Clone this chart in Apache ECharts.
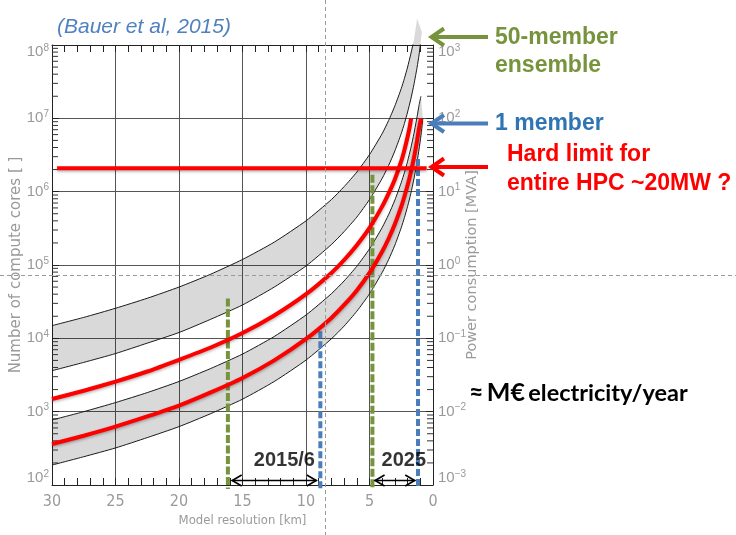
<!DOCTYPE html>
<html>
<head>
<meta charset="utf-8">
<title>Compute cores vs model resolution</title>
<script src="https://cdn.jsdelivr.net/npm/echarts@6.0.0/dist/echarts.min.js"></script>
<style>
html,body{margin:0;padding:0;background:#ffffff;}
#chart{width:736px;height:535px;}
</style>
</head>
<body>
<div id="chart"></div>
<script>
// ---------- values ----------
// each point: [model resolution in km, number of compute cores]
const ensembleUpper = [[30,14900],[27.5,19300],[25,25700],[22.5,35200],[20,50000],[17.5,75000],[15,119000],[12.5,205000],[10,400000],[8,780000],[7,1170000],[6,1850000],[5,3200000],[4,6200000],[3.5,9300000],[3,14800000],[2.5,25500000],[2.25,35000000],[2,50000000],[1.75,75000000],[1.5,118000000],[1.25,230000000]];
const ensembleLower = [[30,3620],[27.5,4700],[25,6200],[22.5,8600],[20,12000],[17.5,18200],[15,28500],[12.5,50000],[10,97000],[8,190000],[7,285000],[6,450000],[5,780000],[4,1520000],[3.5,2270000],[3,3600000],[2.5,6200000],[2.25,8500000],[2,12200000],[1.75,18200000],[1.5,29000000],[1.25,50000000],[1.1,73000000],[1,100000000],[0.88,150000000]];
const upperRed = [[30,1490],[27.5,1930],[25,2570],[22.5,3530],[20,5100],[17.5,7500],[15,11800],[12.5,20500],[10,40000],[8,78000],[7,117000],[6,186000],[5,320000],[4,630000],[3.5,940000],[3,1480000],[2.5,2600000],[2.25,3700000],[2,5600000],[1.85,7400000],[1.72,10000000]];
const memberUpper = [[30,770],[27.5,1000],[25,1330],[22.5,1820],[20,2580],[17.5,3880],[15,6100],[12.5,10600],[10,20800],[8,40600],[7,60600],[6,96000],[5,166000],[4,325000],[3.5,485000],[3,770000],[2.5,1330000],[2.25,1820000],[2,2600000],[1.75,3900000],[1.5,6200000],[1.25,10600000],[1.1,15000000],[0.95,20000000]];
const lowerRed = [[30,362],[27.5,470],[25,625],[22.5,860],[20,1210],[17.5,1830],[15,2880],[12.5,5000],[10,9800],[8,19000],[7,28500],[6,45000],[5,78000],[4,153000],[3.5,228000],[3,362000],[2.5,625000],[2.25,860000],[2,1220000],[1.75,1820000],[1.5,2900000],[1.25,5000000],[1.1,7300000],[0.95,10000000]];
const memberLower = [[30,187],[27.5,243],[25,320],[22.5,443],[20,625],[17.5,940],[15,1480],[12.5,2580],[10,5050],[8,9850],[7,14700],[6,23400],[5,40400],[4,79000],[3.5,118000],[3,187000],[2.5,323000],[2.25,443000],[2,630000],[1.75,940000],[1.5,1500000],[1.25,2580000],[1.1,3800000],[0.95,5800000],[0.8,10000000]];

const hardLimitCores = 2080000;
const hardLimitKm = [29.6, 0.5];

// vertical dashed markers (2015/6 and 2025)
const markerKm   = [16.15, 8.87, 4.77, 1.18];
const markerTop  = [35000, 12500, 1700000, 2800000];
const markerBottom = 88;

// period arrows and labels
const periodFromKm = [15.85, 4.6];
const periodToKm   = [9.15, 1.4];
const periodArrowCores = 117;
const periodLabels = ['2015/6', '2025'];
const periodLabelKm = [11.7, 2.3];
const periodLabelCores = 215;

// grey guide cross-hair of the slide
const guideKm = 8.5;
const guideCores = 73000;

// axes
const xTicks = [30, 25, 20, 15, 10, 5, 0];
const coreTickExp = [2, 3, 4, 5, 6, 7, 8];
const powerTickExp = [-3, -2, -1, 0, 1, 2, 3];

// ---------- chart ----------
const FONT = "'Liberation Sans', Arial, sans-serif";
const NARROW = "'Liberation Sans Narrow', 'DejaVu Sans Condensed', 'Liberation Sans', sans-serif";
const WIDE = "'DejaVu Sans', 'Liberation Sans', sans-serif";
const GREEN = '#77933c', BLUE = '#4a7ebb', RED = '#ff0000';
const markerColor = [GREEN, BLUE, GREEN, BLUE];
const markerDash = [[8, 2.5], [7, 3], [8, 2.5], [7, 3]];

function supLabel(v, exps) {
  const e = Math.round(Math.log10(v));
  const s = e < 0 ? '\u2212' + (-e) : String(e);
  const core = '{b|10}{s|' + s + '}';
  if (e === exps[exps.length - 1]) return '{g| }\n' + core;
  if (e === exps[0]) return core + '\n{g| }';
  return core;
}
const richLab = {
  b: {fontSize: 15, lineHeight: 18, color: '#9a9a9a', fontFamily: FONT},
  s: {fontSize: 10, lineHeight: 10, verticalAlign: 'top', color: '#9a9a9a', fontFamily: FONT},
  g: {fontSize: 8, lineHeight: 14}
};

const minorVals = [];
for (let i = 0; i < coreTickExp.length - 1; i++) {
  for (let m = 2; m <= 9; m++) minorVals.push([15, m * Math.pow(10, coreTickExp[i])]);
}

function bandRenderer(upper, lower) {
  return function (params, api) {
    const pts = upper.map(p => api.coord(p)).concat(lower.slice().reverse().map(p => api.coord(p)));
    return {type: 'polygon', shape: {points: pts}, style: {fill: 'rgba(0,0,0,0.15)'}, silent: true};
  };
}

function renderMinor(params, api) {
  const v = api.value(1);
  const L = api.coord([xTicks[0], v]);
  const R = api.coord([xTicks[xTicks.length - 1], v]);
  return {type: 'group', children: [
    {type: 'line', shape: {x1: L[0], y1: L[1], x2: L[0] + 6, y2: L[1]}, style: {stroke: '#333', lineWidth: 1}},
    {type: 'line', shape: {x1: R[0] - 6, y1: R[1], x2: R[0], y2: R[1]}, style: {stroke: '#333', lineWidth: 1}}
  ]};
}

function renderPeriodArrow(params, api) {
  const a = api.coord([api.value(0), api.value(1)]);
  const b = api.coord([api.value(2), api.value(1)]);
  const y = Math.round(a[1]) + 0.5;
  const st = {stroke: '#000', lineWidth: 1.6, fill: null};
  return {type: 'group', children: [
    {type: 'line', shape: {x1: a[0], y1: y, x2: b[0], y2: y}, style: st},
    {type: 'polyline', shape: {points: [[a[0] + 10, y - 5.5], [a[0] + 0.5, y], [a[0] + 10, y + 5.5]]}, style: st},
    {type: 'polyline', shape: {points: [[b[0] - 10, y - 5.5], [b[0] - 0.5, y], [b[0] - 10, y + 5.5]]}, style: st}
  ]};
}

const blackLine = (data) => ({
  type: 'line', data: data, showSymbol: false, symbol: 'none', smooth: 0.2, z: 3,
  lineStyle: {color: '#1a1a1a', width: 1}, silent: true
});
const redLine = (data) => ({
  type: 'line', data: data, showSymbol: false, symbol: 'none', smooth: 0.2, z: 5,
  lineStyle: {color: RED, width: 4, cap: 'butt', shadowColor: 'rgba(0,0,0,0.3)', shadowBlur: 3, shadowOffsetY: 1.5},
  silent: true
});

const series = [
  {type: 'custom', renderItem: bandRenderer(ensembleUpper, ensembleLower), data: [[15, 1000]], encode: {x: 0, y: 1}, clip: false, z: 1, silent: true},
  {type: 'custom', renderItem: bandRenderer(memberUpper, memberLower), data: [[15, 1000]], encode: {x: 0, y: 1}, clip: false, z: 1, silent: true},
  blackLine(ensembleUpper), blackLine(ensembleLower), blackLine(memberUpper), blackLine(memberLower),
  {type: 'custom', renderItem: renderMinor, data: minorVals, encode: {x: 0, y: 1}, z: 2, silent: true}
];
markerKm.forEach((km, i) => {
  series.push({
    type: 'line', data: [[km, markerTop[i]], [km, markerBottom]], showSymbol: false, symbol: 'none', clip: false, z: 4,
    lineStyle: {color: markerColor[i], width: 4, type: markerDash[i], cap: 'butt'}, silent: true
  });
});
series.push(redLine(upperRed), redLine(lowerRed));
series.push({
  type: 'line', data: [[hardLimitKm[0], hardLimitCores], [hardLimitKm[1], hardLimitCores]], showSymbol: false, symbol: 'none', z: 5,
  lineStyle: {color: RED, width: 4, shadowColor: 'rgba(0,0,0,0.3)', shadowBlur: 3, shadowOffsetY: 1.5}, silent: true
});
series.push({
  type: 'custom', renderItem: renderPeriodArrow, clip: false, z: 6, silent: true,
  encode: {x: [0, 2], y: 1},
  data: periodFromKm.map((k, i) => [k, periodArrowCores, periodToKm[i]])
});
series.push({
  type: 'scatter', z: 7, silent: true, symbolSize: 1, itemStyle: {color: 'rgba(0,0,0,0)'},
  data: periodLabels.map((t, i) => ({name: t, value: [periodLabelKm[i], periodLabelCores]})),
  label: {show: true, position: 'inside', formatter: '{b}', color: '#000', fontSize: 20, fontWeight: 'bold', fontFamily: FONT}
});

const chart = echarts.init(document.getElementById('chart'), null, {renderer: 'canvas'});
const axisLineStyle = {color: '#222', width: 1};
chart.setOption({
  animation: false,
  backgroundColor: '#ffffff',
  grid: {left: 52, right: 303, top: 45, bottom: 50, containLabel: false, outerBoundsMode: 'none'},
  xAxis: [
    {
      type: 'value', min: xTicks[xTicks.length - 1], max: xTicks[0], interval: 5, inverse: true, position: 'bottom',
      axisLine: {show: true, onZero: false, lineStyle: axisLineStyle},
      axisTick: {show: true, inside: true, length: 7, lineStyle: axisLineStyle},
      minorTick: {show: true, splitNumber: 5, length: 7, lineStyle: axisLineStyle},
      splitLine: {show: true, lineStyle: {color: '#555', width: 1}},
      axisLabel: {color: '#9a9a9a', fontSize: 16, fontFamily: NARROW, margin: 9},
      name: 'Model resolution [km]', nameLocation: 'middle', nameGap: 29, nameMoveOverlap: false,
      nameTextStyle: {color: '#9a9a9a', fontSize: 13, fontFamily: NARROW}
    },
    {
      type: 'value', min: xTicks[xTicks.length - 1], max: xTicks[0], interval: 5, inverse: true, position: 'top',
      axisLine: {show: true, onZero: false, lineStyle: axisLineStyle},
      axisTick: {show: true, inside: true, length: 7, lineStyle: axisLineStyle},
      minorTick: {show: true, splitNumber: 5, length: 7, lineStyle: axisLineStyle},
      splitLine: {show: false}, axisLabel: {show: false}
    }
  ],
  yAxis: [
    {
      type: 'log', logBase: 10, min: Math.pow(10, coreTickExp[0]), max: Math.pow(10, coreTickExp[coreTickExp.length - 1]),
      splitNumber: coreTickExp.length - 1, position: 'left',
      axisLine: {show: true, onZero: false, lineStyle: axisLineStyle},
      axisTick: {show: true, inside: true, length: 7, lineStyle: axisLineStyle},
      splitLine: {show: true, lineStyle: {color: '#555', width: 1}},
      axisLabel: {margin: 3, formatter: v => supLabel(v, coreTickExp), rich: richLab},
      name: 'Number of compute cores [ ]', nameLocation: 'middle', nameGap: 28, nameRotate: 90, nameMoveOverlap: false,
      nameTextStyle: {color: '#9a9a9a', fontSize: 15, fontFamily: WIDE}
    },
    {
      type: 'log', logBase: 10, min: Math.pow(10, powerTickExp[0]), max: Math.pow(10, powerTickExp[powerTickExp.length - 1]),
      splitNumber: powerTickExp.length - 1, position: 'right',
      axisLine: {show: true, onZero: false, lineStyle: axisLineStyle},
      axisTick: {show: true, inside: true, length: 7, lineStyle: axisLineStyle},
      splitLine: {show: false},
      axisLabel: {margin: 5, formatter: v => supLabel(v, powerTickExp), rich: richLab},
      name: 'Power consumption [MVA]', nameLocation: 'middle', nameGap: 32, nameRotate: 90, nameMoveOverlap: false,
      nameTextStyle: {color: '#9a9a9a', fontSize: 14.5, fontFamily: WIDE}
    }
  ],
  series: series
});

// decorations: slide guides, title and right-hand annotations
const g = chart.convertToPixel({gridIndex: 0}, [guideKm, guideCores]);
function arrow(y, color) {
  return [
    {type: 'line', shape: {x1: 431, y1: y, x2: 488, y2: y}, style: {stroke: color, lineWidth: 4}, z: 20},
    {type: 'polyline', shape: {points: [[444, y - 8.5], [431.5, y], [444, y + 8.5]]}, style: {stroke: color, lineWidth: 4, fill: null, lineJoin: 'miter'}, z: 20}
  ];
}
const boldText = (text, x, y, color) => ({
  type: 'text', x: x, y: y, z: 20,
  style: {text: text, fill: color, fontSize: 23, fontWeight: 'bold', fontFamily: FONT, align: 'left', verticalAlign: 'middle'}
});
const LATO = "Lato, 'Open Sans', sans-serif";
chart.setOption({
  graphic: [
    {type: 'line', shape: {x1: Math.round(g[0]) + 0.5, y1: 0, x2: Math.round(g[0]) + 0.5, y2: 535}, style: {stroke: '#9a9a9a', lineWidth: 1, lineDash: [4, 3]}, z: 15, silent: true},
    {type: 'line', shape: {x1: 0, y1: Math.round(g[1]) + 0.5, x2: 736, y2: Math.round(g[1]) + 0.5}, style: {stroke: '#9a9a9a', lineWidth: 1, lineDash: [4, 3]}, z: 15, silent: true},
    {type: 'text', x: 57, y: 27, z: 20, style: {text: '(Bauer et al, 2015)', fill: '#4f81bd', fontSize: 21, fontStyle: 'italic', fontFamily: FONT, align: 'left', verticalAlign: 'middle'}},
    ...arrow(37, GREEN),
    ...arrow(123.5, BLUE),
    ...arrow(167, RED),
    boldText('50-member', 495, 37.5, GREEN),
    boldText('ensemble', 495, 66, GREEN),
    boldText('1 member', 495, 123.5, '#2f74b5'),
    boldText('Hard limit for', 507, 155, RED),
    boldText('entire HPC ~20MW ?', 507, 184, RED),
    {type: 'text', x: 469, y: 393, z: 20, style: {
      text: '{a|\u2248} {m|M\u20ac} {e|electricity/year}', align: 'left', verticalAlign: 'middle',
      rich: {
        a: {fontSize: 25, fontWeight: 'bold', fontFamily: LATO, fill: '#000'},
        m: {fontSize: 25, fontWeight: 'bold', fontFamily: LATO, fill: '#000'},
        e: {fontSize: 23.5, fontWeight: 'bold', fontFamily: LATO, fill: '#000'}
      }
    }}
  ]
});
</script>
</body>
</html>
